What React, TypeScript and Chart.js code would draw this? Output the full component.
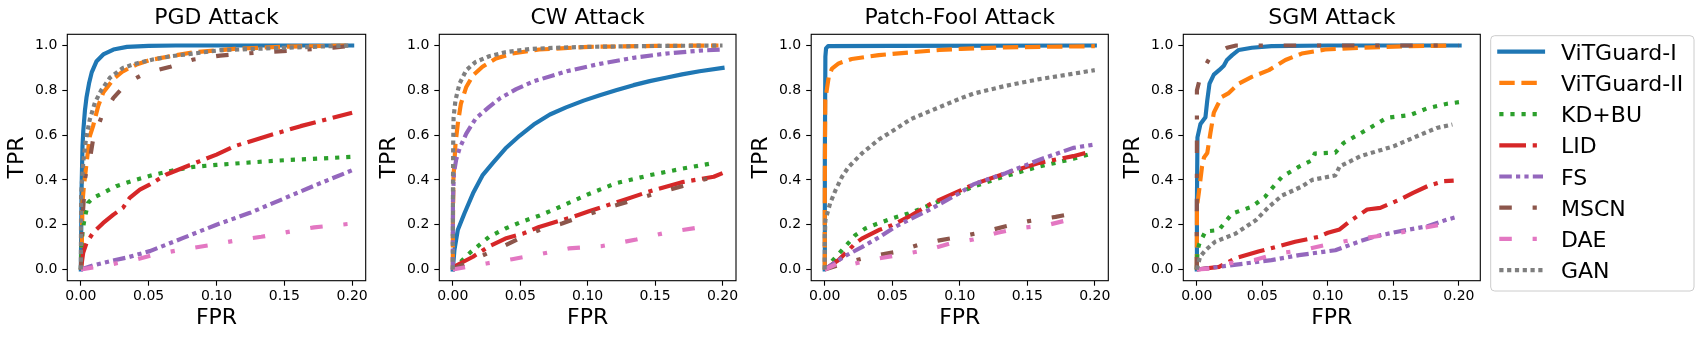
import React, { useEffect, useRef } from "react";
import { Chart, registerables } from "chart.js";

Chart.register(...registerables);
Chart.defaults.font.family = "'DejaVu Sans', sans-serif";
Chart.defaults.color = "#000";

type Pt = [number, number];

// ---------- labels ----------
const SERIES_NAMES = ["ViTGuard-I", "ViTGuard-II", "KD+BU", "LID", "FS", "MSCN", "DAE", "GAN"];
const SERIES_COLORS = ["#1f77b4", "#ff7f0e", "#2ca02c", "#d62728", "#9467bd", "#8c564b", "#e377c2", "#7f7f7f"];
const PANEL_TITLES = ["PGD Attack", "CW Attack", "Patch-Fool Attack", "SGM Attack"];
const X_TICKS = [0, 0.05, 0.1, 0.15, 0.2];
const Y_TICKS = [0, 0.2, 0.4, 0.6, 0.8, 1.0];
const X_LABEL = "FPR";
const Y_LABEL = "TPR";

// ---------- PGD ----------
const pgdVit1: Pt[] = [[0, 0], [0.0005, 0.35], [0.0012, 0.55], [0.0018, 0.62], [0.003, 0.71], [0.0042, 0.77], [0.006, 0.83], [0.008, 0.88], [0.0116, 0.93], [0.0165, 0.96], [0.024, 0.982], [0.034, 0.994], [0.05, 0.998], [0.07, 1.0], [0.2, 1.0]];
const pgdVit2: Pt[] = [[0, 0], [0.0005, 0.03], [0.0012, 0.3], [0.0022, 0.37], [0.0042, 0.476], [0.0066, 0.595], [0.009, 0.64], [0.0128, 0.73], [0.0165, 0.79], [0.024, 0.85], [0.031, 0.885], [0.041, 0.915], [0.051, 0.935], [0.066, 0.952], [0.083, 0.97], [0.1026, 0.979], [0.113, 0.985], [0.15, 0.995], [0.2, 1.0]];
const pgdKdbu: Pt[] = [[0, 0], [0.0005, 0.104], [0.0012, 0.164], [0.0022, 0.208], [0.0037, 0.253], [0.0054, 0.298], [0.009, 0.32], [0.0165, 0.342], [0.026, 0.372], [0.0386, 0.397], [0.053, 0.422], [0.066, 0.44], [0.083, 0.458], [0.1, 0.467], [0.125, 0.478], [0.15, 0.488], [0.175, 0.495], [0.2, 0.503]];
const pgdLid: Pt[] = [[0, 0], [0.0017, 0.074], [0.0042, 0.119], [0.009, 0.164], [0.0165, 0.208], [0.024, 0.245], [0.031, 0.275], [0.036, 0.32], [0.0435, 0.357], [0.051, 0.38], [0.063, 0.424], [0.0755, 0.454], [0.0878, 0.484], [0.1, 0.513], [0.113, 0.55], [0.137, 0.595], [0.162, 0.64], [0.2, 0.7]];
const pgdFs: Pt[] = [[0, 0], [0.01, 0.02], [0.0214, 0.037], [0.035, 0.055], [0.0509, 0.082], [0.0755, 0.141], [0.1, 0.2], [0.1247, 0.253], [0.149, 0.315], [0.174, 0.379], [0.2, 0.443]];
const pgdMscn: Pt[] = [[0, 0], [0.0005, 0.12], [0.0017, 0.27], [0.003, 0.4], [0.0042, 0.446], [0.0066, 0.49], [0.009, 0.58], [0.015, 0.677], [0.024, 0.766], [0.034, 0.833], [0.048, 0.878], [0.066, 0.905], [0.083, 0.9375], [0.1026, 0.955], [0.13, 0.968], [0.162, 0.98], [0.186, 0.99], [0.2, 1.0]];
const pgdDae: Pt[] = [[0, 0], [0.0214, 0.022], [0.041, 0.045], [0.0533, 0.065], [0.0727, 0.087], [0.0935, 0.107], [0.113, 0.128], [0.133, 0.146], [0.152, 0.167], [0.172, 0.188], [0.2, 0.205]];
const pgdGan: Pt[] = [[0, 0], [0.0002, 0.33], [0.0017, 0.476], [0.0037, 0.58], [0.0066, 0.67], [0.0103, 0.744], [0.015, 0.8], [0.0214, 0.856], [0.031, 0.9], [0.041, 0.92], [0.053, 0.9375], [0.066, 0.952], [0.083, 0.964], [0.1026, 0.979], [0.15, 0.99], [0.2, 1.0]];

// ---------- CW ----------
const cwVit1: Pt[] = [[0, 0], [0.0012, 0.086], [0.0037, 0.176], [0.0086, 0.25], [0.015, 0.34], [0.022, 0.42], [0.0296, 0.475], [0.039, 0.54], [0.0495, 0.597], [0.06, 0.647], [0.072, 0.692], [0.084, 0.724], [0.097, 0.754], [0.109, 0.778], [0.121, 0.8], [0.134, 0.823], [0.146, 0.841], [0.158, 0.856], [0.17, 0.871], [0.183, 0.885], [0.2, 0.9]];
const cwVit2: Pt[] = [[0, 0], [0.0001, 0.2], [0.0005, 0.41], [0.002, 0.56], [0.0037, 0.65], [0.006, 0.74], [0.01, 0.815], [0.015, 0.867], [0.022, 0.905], [0.032, 0.942], [0.044, 0.964], [0.064, 0.982], [0.101, 0.994], [0.15, 0.998], [0.197, 1.0]];
const cwKdbu: Pt[] = [[0, 0], [0.0135, 0.079], [0.027, 0.146], [0.039, 0.183], [0.052, 0.215], [0.064, 0.24], [0.076, 0.27], [0.1, 0.335], [0.121, 0.385], [0.146, 0.421], [0.17, 0.45], [0.194, 0.476]];
const cwLid: Pt[] = [[0, 0.01], [0.015, 0.057], [0.027, 0.104], [0.039, 0.138], [0.052, 0.16], [0.064, 0.19], [0.089, 0.235], [0.101, 0.26], [0.124, 0.305], [0.145, 0.347], [0.17, 0.39], [0.1935, 0.414], [0.2, 0.43]];
const cwFs: Pt[] = [[0, 0], [0.0001, 0.3], [0.0008, 0.43], [0.0025, 0.49], [0.005, 0.54], [0.01, 0.607], [0.017, 0.674], [0.027, 0.726], [0.0352, 0.765], [0.047, 0.805], [0.06, 0.84], [0.0844, 0.885], [0.109, 0.918], [0.134, 0.945], [0.158, 0.964], [0.183, 0.977], [0.2, 0.982]];
const cwMscn: Pt[] = [[0, 0], [0.02, 0.057], [0.034, 0.094], [0.049, 0.138], [0.067, 0.183], [0.081, 0.205], [0.0985, 0.243], [0.119, 0.283], [0.148, 0.335], [0.17, 0.372], [0.185, 0.4], [0.2, 0.42]];
const cwDae: Pt[] = [[0, 0], [0.025, 0.027], [0.044, 0.046], [0.064, 0.068], [0.086, 0.094], [0.11, 0.104], [0.136, 0.134], [0.16, 0.167], [0.185, 0.19]];
const cwGan: Pt[] = [[0, 0], [0.0001, 0.3], [0.0003, 0.5625], [0.0006, 0.68], [0.002, 0.756], [0.005, 0.83], [0.01, 0.89], [0.017, 0.927], [0.027, 0.952], [0.039, 0.97], [0.057, 0.984], [0.076, 0.99], [0.101, 0.994], [0.15, 0.998], [0.2, 1.0]];

// ---------- Patch-Fool ----------
const pfVit1: Pt[] = [[0, 0], [0.0001, 0.5], [0.0005, 0.95], [0.001, 0.987], [0.0025, 0.997], [0.05, 0.998], [0.2, 1.0]];
const pfVit2: Pt[] = [[0, 0], [0.0001, 0.4], [0.0004, 0.756], [0.003, 0.86], [0.0054, 0.897], [0.0103, 0.92], [0.02, 0.94], [0.04, 0.957], [0.0645, 0.97], [0.085, 0.98], [0.101, 0.985], [0.134, 0.992], [0.2, 0.997]];
const pfKdbu: Pt[] = [[0, 0], [0.0066, 0.045], [0.0128, 0.086], [0.0226, 0.153], [0.03, 0.183], [0.037, 0.2], [0.05, 0.228], [0.062, 0.25], [0.079, 0.29], [0.101, 0.345], [0.11, 0.37], [0.134, 0.417], [0.159, 0.46], [0.184, 0.494], [0.198, 0.518]];
const pfLid: Pt[] = [[0, 0], [0.0103, 0.042], [0.0226, 0.116], [0.0275, 0.138], [0.04, 0.176], [0.05, 0.198], [0.0645, 0.243], [0.079, 0.295], [0.101, 0.354], [0.11, 0.38], [0.134, 0.43], [0.159, 0.476], [0.184, 0.506], [0.193, 0.52]];
const pfFs: Pt[] = [[0, 0], [0.015, 0.06], [0.0275, 0.1], [0.04, 0.143], [0.052, 0.19], [0.0645, 0.228], [0.077, 0.265], [0.101, 0.345], [0.11, 0.38], [0.134, 0.43], [0.159, 0.49], [0.184, 0.543], [0.2, 0.558]];
const pfMscn: Pt[] = [[0, 0], [0.02, 0.037], [0.035, 0.06], [0.053, 0.079], [0.069, 0.109], [0.085, 0.13], [0.1, 0.146], [0.12, 0.171], [0.134, 0.193], [0.151, 0.216], [0.171, 0.235], [0.187, 0.253]];
const pfDae: Pt[] = [[0, 0], [0.015, 0.042], [0.0226, 0.027], [0.037, 0.046], [0.057, 0.067], [0.077, 0.089], [0.093, 0.116], [0.11, 0.134], [0.128, 0.164], [0.146, 0.186], [0.166, 0.2], [0.186, 0.23]];
const pfGan: Pt[] = [[0, 0], [0.0001, 0.146], [0.0005, 0.22], [0.004, 0.295], [0.008, 0.354], [0.0128, 0.414], [0.0177, 0.458], [0.0275, 0.518], [0.04, 0.58], [0.052, 0.625], [0.064, 0.672], [0.077, 0.705], [0.089, 0.735], [0.101, 0.765], [0.11, 0.785], [0.134, 0.82], [0.159, 0.85], [0.18, 0.87], [0.2, 0.89]];

// ---------- SGM ----------
const sgmVit1: Pt[] = [[0, 0], [0.0001, 0.3], [0.0005, 0.59], [0.0028, 0.65], [0.0066, 0.68], [0.008, 0.756], [0.0097, 0.83], [0.013, 0.87], [0.017, 0.89], [0.0206, 0.91], [0.023, 0.935], [0.027, 0.957], [0.032, 0.98], [0.042, 0.99], [0.057, 0.997], [0.1, 1.0], [0.2005, 1.0]];
const sgmVit2: Pt[] = [[0, 0], [0.0001, 0.28], [0.0015, 0.34], [0.004, 0.46], [0.0055, 0.5], [0.008, 0.52], [0.0104, 0.61], [0.013, 0.7], [0.0155, 0.73], [0.019, 0.77], [0.024, 0.786], [0.032, 0.83], [0.042, 0.86], [0.055, 0.89], [0.0676, 0.935], [0.08, 0.964], [0.098, 0.982], [0.125, 0.99], [0.163, 0.997], [0.194, 1.0]];
const sgmKdbu: Pt[] = [[0, 0], [0.0005, 0.086], [0.002, 0.116], [0.0066, 0.17], [0.0168, 0.176], [0.027, 0.25], [0.042, 0.28], [0.052, 0.324], [0.057, 0.36], [0.065, 0.414], [0.0777, 0.458], [0.088, 0.488], [0.09, 0.518], [0.1057, 0.522], [0.112, 0.565], [0.13, 0.625], [0.145, 0.677], [0.163, 0.69], [0.176, 0.72], [0.191, 0.74], [0.2036, 0.75]];
const sgmLid: Pt[] = [[0, 0], [0.017, 0.012], [0.0295, 0.05], [0.047, 0.08], [0.06, 0.1], [0.075, 0.124], [0.093, 0.146], [0.1, 0.164], [0.109, 0.179], [0.117, 0.216], [0.13, 0.268], [0.14, 0.275], [0.155, 0.3125], [0.165, 0.342], [0.176, 0.372], [0.188, 0.394], [0.196, 0.397]];
const sgmFs: Pt[] = [[0, 0], [0.017, 0.012], [0.037, 0.027], [0.057, 0.042], [0.078, 0.064], [0.1057, 0.086], [0.125, 0.127], [0.137, 0.149], [0.155, 0.171], [0.176, 0.193], [0.191, 0.223], [0.198, 0.234]];
const sgmMscn: Pt[] = [[0, 0], [0.0001, 0.8], [0.0036, 0.88], [0.0104, 0.95], [0.023, 0.99], [0.03, 1.0], [0.2, 1.0]];
const sgmDae: Pt[] = [[0, 0], [0.013, 0.005], [0.023, 0.027], [0.044, 0.042], [0.06, 0.07], [0.08, 0.086], [0.098, 0.109], [0.114, 0.127], [0.135, 0.146], [0.155, 0.164], [0.173, 0.186], [0.193, 0.208], [0.196, 0.23]];
const sgmGan: Pt[] = [[0, 0], [0.0025, 0.057], [0.0066, 0.086], [0.014, 0.124], [0.0295, 0.16], [0.045, 0.22], [0.055, 0.28], [0.065, 0.33], [0.08, 0.37], [0.088, 0.4], [0.1057, 0.42], [0.109, 0.46], [0.125, 0.506], [0.15, 0.55], [0.168, 0.595], [0.183, 0.632], [0.195, 0.647]];

const PANEL_DATA: Pt[][][] = [
  [pgdVit1, pgdVit2, pgdKdbu, pgdLid, pgdFs, pgdMscn, pgdDae, pgdGan],
  [cwVit1, cwVit2, cwKdbu, cwLid, cwFs, cwMscn, cwDae, cwGan],
  [pfVit1, pfVit2, pfKdbu, pfLid, pfFs, pfMscn, pfDae, pfGan],
  [sgmVit1, sgmVit2, sgmKdbu, sgmLid, sgmFs, sgmMscn, sgmDae, sgmGan],
];
const PANEL_X_MIN = [-0.01, -0.01, -0.01, -0.0103];
const PANEL_X_MAX = [0.21, 0.21, 0.21, 0.2163];
const Y_MIN = -0.05;
const Y_MAX = 1.05;

// ---------- styles / layout ----------
const LW = 4.17;
const SERIES_DASH: number[][] = [
  [],
  [15.4, 6.7],
  [4.2, 6.9],
  [26.7, 6.7, 4.2, 6.7],
  [12.5, 4.2, 4.2, 4.2, 4.2, 4.2],
  [12.5, 20.8, 4.2, 20.8],
  [12.5, 20.8, 4.2, 20.8],
  [4.2, 3.6],
];
const FIG_W = 1703;
const FIG_H = 340;
const PANEL_LEFT = [67.3, 439.3, 811.2, 1183.3];
const PANEL_RIGHT = [365.7, 736, 1108.3, 1480.3];
const PLOT_TOP = 34.3;
const PLOT_BOTTOM = 280.7;
const FONT = "'DejaVu Sans', sans-serif";

const boxPlugin = {
  id: "axesBox",
  afterDatasetsDraw(chart: any) {
    const { ctx, chartArea: a } = chart;
    ctx.save();
    ctx.strokeStyle = "#000";
    ctx.lineWidth = 1.1;
    ctx.strokeRect(a.left, a.top, a.right - a.left, a.bottom - a.top);
    ctx.restore();
  },
};

function Panel({ index }: { index: number }) {
  const ref = useRef<HTMLCanvasElement | null>(null);
  const L = PANEL_LEFT[index];
  const R = PANEL_RIGHT[index];
  const canvasLeft = Math.floor(L - 66);
  const yw = L - canvasLeft;
  const cw = Math.ceil(yw + (R - L) + 14);
  const padRight = cw - yw - (R - L);

  useEffect(() => {
    const canvas = ref.current;
    if (!canvas) return;
    const chart = new Chart(canvas, {
      type: "line",
      data: {
        datasets: PANEL_DATA[index].map((pts, i) => ({
          label: SERIES_NAMES[i],
          data: pts.map(([x, y]) => ({ x, y })),
          borderColor: SERIES_COLORS[i],
          backgroundColor: SERIES_COLORS[i],
          borderWidth: LW,
          borderDash: SERIES_DASH[i],
          borderCapStyle: i === 0 ? "square" : "butt",
          borderJoinStyle: "round",
          pointRadius: 0,
          pointHoverRadius: 0,
          fill: false,
          tension: 0,
          order: 7 - i,
        })),
      } as any,
      options: {
        responsive: false,
        animation: false,
        devicePixelRatio: 1,
        events: [],
        layout: { padding: { left: 0, top: 0, bottom: 0, right: padRight } },
        plugins: {
          legend: { display: false },
          tooltip: { enabled: false },
          title: {
            display: true,
            text: PANEL_TITLES[index],
            color: "#000",
            fullSize: false,
            font: { size: 22, weight: "normal", family: FONT, lineHeight: 1.2 },
            padding: { top: 4.9, bottom: PLOT_TOP - 26.4 - 4.9 },
          },
        },
        scales: {
          x: {
            type: "linear",
            position: "bottom",
            min: PANEL_X_MIN[index],
            max: PANEL_X_MAX[index],
            afterBuildTicks: (s: any) => {
              s.ticks = X_TICKS.map((v) => ({ value: v }));
            },
            afterFit: (s: any) => {
              s.height = FIG_H - PLOT_BOTTOM;
            },
            ticks: {
              autoSkip: false,
              maxRotation: 0,
              minRotation: 0,
              padding: 2,
              color: "#000",
              font: { size: 14, family: FONT },
              callback: (v: any) => Number(v).toFixed(2),
            },
            grid: { display: true, drawOnChartArea: false, drawTicks: true, tickLength: 5, tickWidth: 1.1, tickColor: "#000" },
            border: { display: false },
            title: {
              display: true,
              text: X_LABEL,
              color: "#000",
              font: { size: 22, family: FONT, lineHeight: 1.2 },
              padding: { top: 0, bottom: 8.9 },
            },
          },
          y: {
            type: "linear",
            position: "left",
            min: Y_MIN,
            max: Y_MAX,
            afterBuildTicks: (s: any) => {
              s.ticks = Y_TICKS.map((v) => ({ value: v }));
            },
            afterFit: (s: any) => {
              s.width = yw;
            },
            ticks: {
              autoSkip: false,
              padding: 5,
              color: "#000",
              font: { size: 14, family: FONT },
              callback: (v: any) => Number(v).toFixed(1),
            },
            grid: { display: true, drawOnChartArea: false, drawTicks: true, tickLength: 5, tickWidth: 1.1, tickColor: "#000" },
            border: { display: false },
            title: {
              display: true,
              text: Y_LABEL,
              color: "#000",
              font: { size: 22, family: FONT, lineHeight: 1.2 },
              padding: { top: yw - 62.8, bottom: 0 },
            },
          },
        },
      } as any,
      plugins: [boxPlugin],
    });
    return () => chart.destroy();
  }, [index]);

  return (
    <canvas
      ref={ref}
      width={cw}
      height={FIG_H}
      style={{ position: "absolute", left: canvasLeft, top: 0, width: cw, height: FIG_H }}
    />
  );
}

function Legend() {
  const boxL = 1490.7;
  const boxT = 35.7;
  const boxW = 203.3;
  const boxH = 255.3;
  const rowY0 = 51.7;
  const rowGap = 31.2;
  return (
    <svg
      width={FIG_W}
      height={FIG_H}
      style={{ position: "absolute", left: 0, top: 0, pointerEvents: "none" }}
    >
      <rect x={boxL} y={boxT} width={boxW} height={boxH} rx={4} ry={4} fill="#fff" fillOpacity={0.8} stroke="#cccccc" strokeWidth={1} />
      {SERIES_NAMES.map((name, i) => {
        const cy = rowY0 + i * rowGap;
        return (
          <g key={name}>
            <line
              x1={1499.3}
              x2={1543}
              y1={cy}
              y2={cy}
              stroke={SERIES_COLORS[i]}
              strokeWidth={LW}
              strokeDasharray={SERIES_DASH[i].length ? SERIES_DASH[i].join(",") : undefined}
              strokeLinecap={i === 0 ? "square" : "butt"}
            />
            <text x={1561} y={cy + 8} fontFamily={FONT} fontSize={22} fill="#000">
              {name}
            </text>
          </g>
        );
      })}
    </svg>
  );
}

export default function App() {
  return (
    <div style={{ position: "absolute", left: 0, top: 0, width: FIG_W, height: FIG_H, background: "#fff", overflow: "hidden" }}>
      {PANEL_TITLES.map((_, i) => (
        <Panel key={i} index={i} />
      ))}
      <Legend />
    </div>
  );
}
